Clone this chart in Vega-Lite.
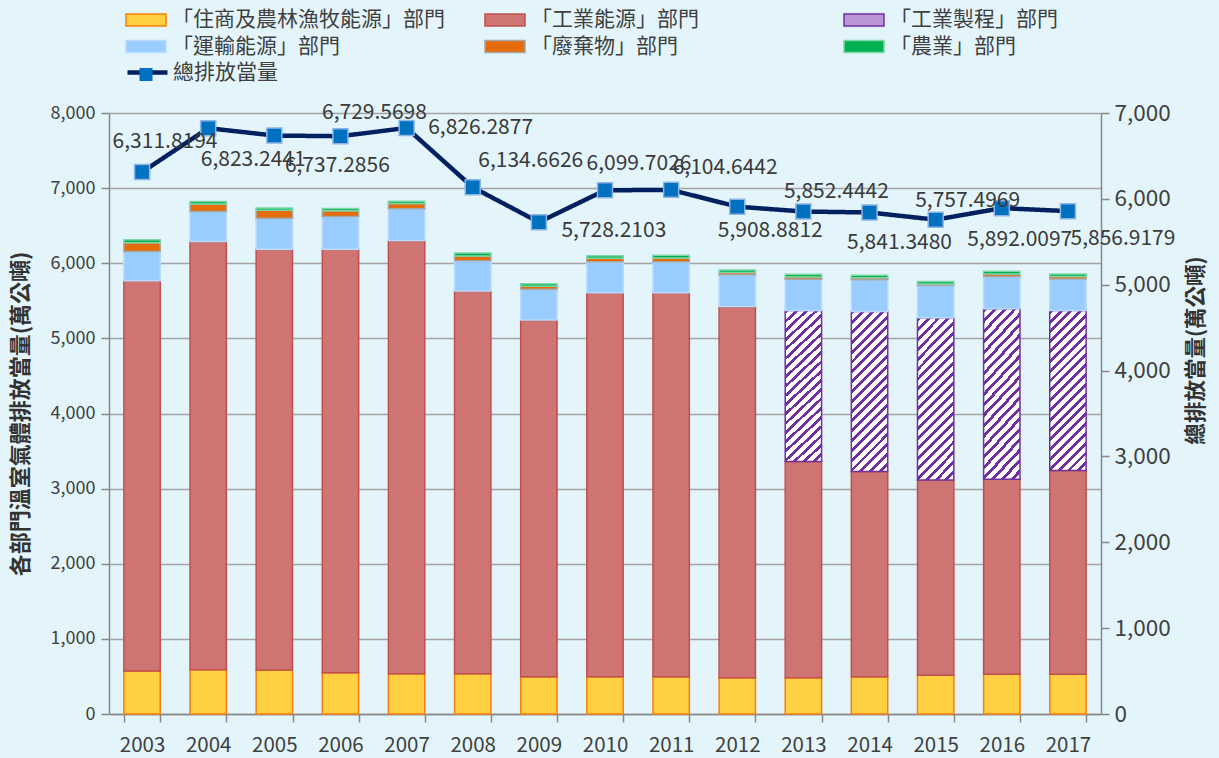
{
  "$schema": "https://vega.github.io/schema/vega-lite/v6.json",
  "width": 992,
  "height": 601,
  "autosize": {"type": "none"},
  "padding": {"left": 109, "top": 113, "right": 118, "bottom": 44},
  "background": "#E3F5FB",
  "config": {
    "view": {"stroke": null},
    "font": "Noto Sans CJK TC",
    "axis": {
      "labelFont": "Noto Sans CJK TC",
      "labelColor": "#404040",
      "domainColor": "#868686",
      "tickColor": "#868686",
      "gridColor": "#A3A3A3",
      "domainWidth": 1.5,
      "tickWidth": 1.5,
      "gridWidth": 1.5,
      "titleFont": "Noto Sans CJK TC",
      "titleColor": "#333333"
    },
    "legend": {
      "labelFont": "Noto Sans CJK TC",
      "labelFontSize": 21,
      "labelColor": "#404040",
      "labelLimit": 400
    },
    "text": {
      "font": "Noto Sans CJK TC",
      "fontSize": 21,
      "color": "#3A3A3A",
      "align": "center",
      "baseline": "middle"
    }
  },
  "datasets": {
    "sectors": [
      {"sector": "「住商及農林漁牧能源」部門", "rank": 1},
      {"sector": "「工業能源」部門", "rank": 2},
      {"sector": "「工業製程」部門", "rank": 3},
      {"sector": "「運輸能源」部門", "rank": 4},
      {"sector": "「廢棄物」部門", "rank": 5},
      {"sector": "「農業」部門", "rank": 6}
    ],
    "bars": [
      {"year": "2003", "sector": "「住商及農林漁牧能源」部門", "value": 573},
      {"year": "2003", "sector": "「工業能源」部門", "value": 5193},
      {"year": "2003", "sector": "「運輸能源」部門", "value": 390},
      {"year": "2003", "sector": "「廢棄物」部門", "value": 118},
      {"year": "2003", "sector": "「農業」部門", "value": 38},
      {"year": "2004", "sector": "「住商及農林漁牧能源」部門", "value": 590},
      {"year": "2004", "sector": "「工業能源」部門", "value": 5699},
      {"year": "2004", "sector": "「運輸能源」部門", "value": 400},
      {"year": "2004", "sector": "「廢棄物」部門", "value": 100},
      {"year": "2004", "sector": "「農業」部門", "value": 34},
      {"year": "2005", "sector": "「住商及農林漁牧能源」部門", "value": 586},
      {"year": "2005", "sector": "「工業能源」部門", "value": 5602},
      {"year": "2005", "sector": "「運輸能源」部門", "value": 412},
      {"year": "2005", "sector": "「廢棄物」部門", "value": 104},
      {"year": "2005", "sector": "「農業」部門", "value": 33},
      {"year": "2006", "sector": "「住商及農林漁牧能源」部門", "value": 550},
      {"year": "2006", "sector": "「工業能源」部門", "value": 5638},
      {"year": "2006", "sector": "「運輸能源」部門", "value": 434},
      {"year": "2006", "sector": "「廢棄物」部門", "value": 76},
      {"year": "2006", "sector": "「農業」部門", "value": 32},
      {"year": "2007", "sector": "「住商及農林漁牧能源」部門", "value": 537},
      {"year": "2007", "sector": "「工業能源」部門", "value": 5765},
      {"year": "2007", "sector": "「運輸能源」部門", "value": 422},
      {"year": "2007", "sector": "「廢棄物」部門", "value": 70},
      {"year": "2007", "sector": "「農業」部門", "value": 32},
      {"year": "2008", "sector": "「住商及農林漁牧能源」部門", "value": 537},
      {"year": "2008", "sector": "「工業能源」部門", "value": 5095},
      {"year": "2008", "sector": "「運輸能源」部門", "value": 400},
      {"year": "2008", "sector": "「廢棄物」部門", "value": 65},
      {"year": "2008", "sector": "「農業」部門", "value": 38},
      {"year": "2009", "sector": "「住商及農林漁牧能源」部門", "value": 497},
      {"year": "2009", "sector": "「工業能源」部門", "value": 4749},
      {"year": "2009", "sector": "「運輸能源」部門", "value": 409},
      {"year": "2009", "sector": "「廢棄物」部門", "value": 40},
      {"year": "2009", "sector": "「農業」部門", "value": 33},
      {"year": "2010", "sector": "「住商及農林漁牧能源」部門", "value": 497},
      {"year": "2010", "sector": "「工業能源」部門", "value": 5109},
      {"year": "2010", "sector": "「運輸能源」部門", "value": 413},
      {"year": "2010", "sector": "「廢棄物」部門", "value": 46},
      {"year": "2010", "sector": "「農業」部門", "value": 35},
      {"year": "2011", "sector": "「住商及農林漁牧能源」部門", "value": 497},
      {"year": "2011", "sector": "「工業能源」部門", "value": 5109},
      {"year": "2011", "sector": "「運輸能源」部門", "value": 413},
      {"year": "2011", "sector": "「廢棄物」部門", "value": 50},
      {"year": "2011", "sector": "「農業」部門", "value": 36},
      {"year": "2012", "sector": "「住商及農林漁牧能源」部門", "value": 484},
      {"year": "2012", "sector": "「工業能源」部門", "value": 4939},
      {"year": "2012", "sector": "「運輸能源」部門", "value": 423},
      {"year": "2012", "sector": "「廢棄物」部門", "value": 30},
      {"year": "2012", "sector": "「農業」部門", "value": 33},
      {"year": "2013", "sector": "「住商及農林漁牧能源」部門", "value": 484},
      {"year": "2013", "sector": "「工業能源」部門", "value": 2876},
      {"year": "2013", "sector": "「工業製程」部門", "value": 2010},
      {"year": "2013", "sector": "「運輸能源」部門", "value": 418},
      {"year": "2013", "sector": "「廢棄物」部門", "value": 30},
      {"year": "2013", "sector": "「農業」部門", "value": 34},
      {"year": "2014", "sector": "「住商及農林漁牧能源」部門", "value": 497},
      {"year": "2014", "sector": "「工業能源」部門", "value": 2730},
      {"year": "2014", "sector": "「工業製程」部門", "value": 2130},
      {"year": "2014", "sector": "「運輸能源」部門", "value": 422},
      {"year": "2014", "sector": "「廢棄物」部門", "value": 28},
      {"year": "2014", "sector": "「農業」部門", "value": 34},
      {"year": "2015", "sector": "「住商及農林漁牧能源」部門", "value": 515},
      {"year": "2015", "sector": "「工業能源」部門", "value": 2601},
      {"year": "2015", "sector": "「工業製程」部門", "value": 2157},
      {"year": "2015", "sector": "「運輸能源」部門", "value": 430},
      {"year": "2015", "sector": "「廢棄物」部門", "value": 20},
      {"year": "2015", "sector": "「農業」部門", "value": 34},
      {"year": "2016", "sector": "「住商及農林漁牧能源」部門", "value": 528},
      {"year": "2016", "sector": "「工業能源」部門", "value": 2597},
      {"year": "2016", "sector": "「工業製程」部門", "value": 2268},
      {"year": "2016", "sector": "「運輸能源」部門", "value": 430},
      {"year": "2016", "sector": "「廢棄物」部門", "value": 35},
      {"year": "2016", "sector": "「農業」部門", "value": 34},
      {"year": "2017", "sector": "「住商及農林漁牧能源」部門", "value": 528},
      {"year": "2017", "sector": "「工業能源」部門", "value": 2712},
      {"year": "2017", "sector": "「工業製程」部門", "value": 2130},
      {"year": "2017", "sector": "「運輸能源」部門", "value": 422},
      {"year": "2017", "sector": "「廢棄物」部門", "value": 30},
      {"year": "2017", "sector": "「農業」部門", "value": 35}
    ],
    "totals": [
      {"year": "2003", "total": 6311.8194},
      {"year": "2004", "total": 6823.2441},
      {"year": "2005", "total": 6737.2856},
      {"year": "2006", "total": 6729.5698},
      {"year": "2007", "total": 6826.2877},
      {"year": "2008", "total": 6134.6626},
      {"year": "2009", "total": 5728.2103},
      {"year": "2010", "total": 6099.7026},
      {"year": "2011", "total": 6104.6442},
      {"year": "2012", "total": 5908.8812},
      {"year": "2013", "total": 5852.4442},
      {"year": "2014", "total": 5841.348},
      {"year": "2015", "total": 5757.4969},
      {"year": "2016", "total": 5892.0097},
      {"year": "2017", "total": 5856.9179}
    ]
  },
  "layer": [
    {
      "data": {"name": "bars"},
      "transform": [
        {"lookup": "sector", "from": {"data": {"name": "sectors"}, "key": "sector", "fields": ["rank"]}}
      ],
      "mark": {"type": "bar", "strokeWidth": 1.5},
      "encoding": {
        "x": {
          "field": "year",
          "type": "ordinal",
          "scale": {"paddingInner": 0.45, "paddingOuter": 0.225},
          "axis": {
            "title": null,
            "labelAngle": 0,
            "labelFontSize": 20.5,
            "tickBand": "extent",
            "tickSize": 8,
            "labelPadding": 13,
            "grid": false
          }
        },
        "y": {
          "field": "value",
          "type": "quantitative",
          "stack": "zero",
          "scale": {"domain": [0, 8000]},
          "axis": {
            "title": "各部門溫室氣體排放當量(萬公噸)",
            "values": [0, 1000, 2000, 3000, 4000, 5000, 6000, 7000, 8000],
            "format": ",.0f",
            "labelFontSize": 18,
            "tickSize": 8,
            "labelPadding": 6,
            "grid": true,
            "titleFontSize": 22,
            "titleFontWeight": "bold",
            "titlePadding": 18
          }
        },
        "order": {"field": "rank", "type": "quantitative", "sort": "ascending"},
        "fill": {
          "condition": {
            "test": "datum.sector === '「工業製程」部門'",
            "value": {
              "gradient": "linear",
              "x1": 0, "y1": 0, "x2": 0.2655, "y2": 1.167,
              "stops": [
                {"offset": 0, "color": "#7030A0"}, {"offset": 0.02, "color": "#7030A0"}, {"offset": 0.02, "color": "#FFFFFF"}, {"offset": 0.05, "color": "#FFFFFF"},
                {"offset": 0.05, "color": "#7030A0"}, {"offset": 0.07, "color": "#7030A0"}, {"offset": 0.07, "color": "#FFFFFF"}, {"offset": 0.10, "color": "#FFFFFF"},
                {"offset": 0.10, "color": "#7030A0"}, {"offset": 0.12, "color": "#7030A0"}, {"offset": 0.12, "color": "#FFFFFF"}, {"offset": 0.15, "color": "#FFFFFF"},
                {"offset": 0.15, "color": "#7030A0"}, {"offset": 0.17, "color": "#7030A0"}, {"offset": 0.17, "color": "#FFFFFF"}, {"offset": 0.20, "color": "#FFFFFF"},
                {"offset": 0.20, "color": "#7030A0"}, {"offset": 0.22, "color": "#7030A0"}, {"offset": 0.22, "color": "#FFFFFF"}, {"offset": 0.25, "color": "#FFFFFF"},
                {"offset": 0.25, "color": "#7030A0"}, {"offset": 0.27, "color": "#7030A0"}, {"offset": 0.27, "color": "#FFFFFF"}, {"offset": 0.30, "color": "#FFFFFF"},
                {"offset": 0.30, "color": "#7030A0"}, {"offset": 0.32, "color": "#7030A0"}, {"offset": 0.32, "color": "#FFFFFF"}, {"offset": 0.35, "color": "#FFFFFF"},
                {"offset": 0.35, "color": "#7030A0"}, {"offset": 0.37, "color": "#7030A0"}, {"offset": 0.37, "color": "#FFFFFF"}, {"offset": 0.40, "color": "#FFFFFF"},
                {"offset": 0.40, "color": "#7030A0"}, {"offset": 0.42, "color": "#7030A0"}, {"offset": 0.42, "color": "#FFFFFF"}, {"offset": 0.45, "color": "#FFFFFF"},
                {"offset": 0.45, "color": "#7030A0"}, {"offset": 0.47, "color": "#7030A0"}, {"offset": 0.47, "color": "#FFFFFF"}, {"offset": 0.50, "color": "#FFFFFF"},
                {"offset": 0.50, "color": "#7030A0"}, {"offset": 0.52, "color": "#7030A0"}, {"offset": 0.52, "color": "#FFFFFF"}, {"offset": 0.55, "color": "#FFFFFF"},
                {"offset": 0.55, "color": "#7030A0"}, {"offset": 0.57, "color": "#7030A0"}, {"offset": 0.57, "color": "#FFFFFF"}, {"offset": 0.60, "color": "#FFFFFF"},
                {"offset": 0.60, "color": "#7030A0"}, {"offset": 0.62, "color": "#7030A0"}, {"offset": 0.62, "color": "#FFFFFF"}, {"offset": 0.65, "color": "#FFFFFF"},
                {"offset": 0.65, "color": "#7030A0"}, {"offset": 0.67, "color": "#7030A0"}, {"offset": 0.67, "color": "#FFFFFF"}, {"offset": 0.70, "color": "#FFFFFF"},
                {"offset": 0.70, "color": "#7030A0"}, {"offset": 0.72, "color": "#7030A0"}, {"offset": 0.72, "color": "#FFFFFF"}, {"offset": 0.75, "color": "#FFFFFF"},
                {"offset": 0.75, "color": "#7030A0"}, {"offset": 0.77, "color": "#7030A0"}, {"offset": 0.77, "color": "#FFFFFF"}, {"offset": 0.80, "color": "#FFFFFF"},
                {"offset": 0.80, "color": "#7030A0"}, {"offset": 0.82, "color": "#7030A0"}, {"offset": 0.82, "color": "#FFFFFF"}, {"offset": 0.85, "color": "#FFFFFF"},
                {"offset": 0.85, "color": "#7030A0"}, {"offset": 0.87, "color": "#7030A0"}, {"offset": 0.87, "color": "#FFFFFF"}, {"offset": 0.90, "color": "#FFFFFF"},
                {"offset": 0.90, "color": "#7030A0"}, {"offset": 0.92, "color": "#7030A0"}, {"offset": 0.92, "color": "#FFFFFF"}, {"offset": 0.95, "color": "#FFFFFF"},
                {"offset": 0.95, "color": "#7030A0"}, {"offset": 0.97, "color": "#7030A0"}, {"offset": 0.97, "color": "#FFFFFF"}, {"offset": 1, "color": "#FFFFFF"}
              ]
            }
          },
          "field": "sector",
          "type": "nominal",
          "scale": {
            "domain": ["「住商及農林漁牧能源」部門", "「工業能源」部門", "「工業製程」部門", "「運輸能源」部門", "「廢棄物」部門", "「農業」部門"],
            "range": ["#FFD042", "#CE7472", "#B996D4", "#99CCFF", "#E46C0A", "#00B050"]
          },
          "legend": {
            "orient": "none",
            "legendX": 26,
            "legendY": -104,
            "direction": "horizontal",
            "columns": 3,
            "title": null,
            "symbolType": "M-2,-0.6H2V0.6H-2Z",
            "symbolSize": 400,
            "symbolStrokeWidth": 1.5,
            "symbolOpacity": 1,
            "labelOffset": 15,
            "rowPadding": 5.5,
            "columnPadding": 37,
            "gridAlign": "all",
            "encoding": {
              "symbols": {
                "update": {
                  "stroke": {
                    "condition": [
                      {"test": "datum.value === '「住商及農林漁牧能源」部門'", "value": "#F97E0F"},
                      {"test": "datum.value === '「工業能源」部門'", "value": "#C0504D"},
                      {"test": "datum.value === '「工業製程」部門'", "value": "#7030A0"},
                      {"test": "datum.value === '「運輸能源」部門'", "value": "#B8DBFF"},
                      {"test": "datum.value === '「廢棄物」部門'", "value": "#A6A6A6"}
                    ],
                    "value": "#7FD7A7"
                  }
                }
              }
            }
          }
        },
        "stroke": {
          "field": "sector",
          "type": "nominal",
          "scale": {
            "domain": ["「住商及農林漁牧能源」部門", "「工業能源」部門", "「工業製程」部門", "「運輸能源」部門", "「廢棄物」部門", "「農業」部門"],
            "range": ["#F97E0F", "#C0504D", "#7030A0", "#B8DBFF", "#A6A6A6", "#7FD7A7"]
          },
          "legend": null
        }
      }
    },
    {
      "data": {"name": "totals"},
      "encoding": {
        "x": {"field": "year", "type": "ordinal"},
        "y": {
          "field": "total",
          "type": "quantitative",
          "scale": {"domain": [0, 7000]},
          "axis": {
            "orient": "right",
            "title": "總排放當量(萬公噸)",
            "values": [0, 1000, 2000, 3000, 4000, 5000, 6000, 7000],
            "format": ",.0f",
            "labelFontSize": 22.5,
            "tickSize": 8,
            "labelPadding": 5,
            "grid": false,
            "titleAngle": 270,
            "titleY": 237,
            "titleFontSize": 21.5,
            "titleFontWeight": "bold",
            "titlePadding": 37
          }
        }
      },
      "layer": [
        {
          "mark": {"type": "line", "color": "#002060", "strokeWidth": 4.5},
          "encoding": {
            "strokeDash": {
              "datum": "總排放當量",
              "scale": {"range": [[1, 0]]},
              "legend": {
                "orient": "none",
                "legendX": 16,
                "legendY": -63,
                "title": null,
                "symbolType": "stroke",
                "symbolSize": 1600,
                "symbolStrokeWidth": 4.5,
                "symbolStrokeColor": "#002060",
                "labelOffset": 3
              }
            }
          }
        },
        {
          "mark": {"type": "point", "shape": "square", "size": 225, "filled": true, "fill": "#0070C0", "stroke": "#8EB4E3", "strokeWidth": 1.5, "opacity": 1},
          "encoding": {
            "shape": {
              "datum": "總排放當量 ",
              "scale": {"range": ["square"]},
              "legend": {
                "orient": "none",
                "legendX": 26.5,
                "legendY": -49,
                "title": null,
                "labelExpr": "''",
                "symbolSize": 169,
                "symbolFillColor": "#0070C0",
                "symbolStrokeColor": "#8EB4E3",
                "symbolStrokeWidth": 1.5,
                "symbolOpacity": 1
              }
            }
          }
        },
        {"transform": [{"filter": "datum.year === '2003'"}], "mark": {"type": "text", "dx": 23, "dy": -30}, "encoding": {"text": {"field": "total", "type": "quantitative", "format": ",.4f"}}},
        {"transform": [{"filter": "datum.year === '2004'"}], "mark": {"type": "text", "dx": 45, "dy": 32}, "encoding": {"text": {"field": "total", "type": "quantitative", "format": ",.4f"}}},
        {"transform": [{"filter": "datum.year === '2005'"}], "mark": {"type": "text", "dx": 63, "dy": 30}, "encoding": {"text": {"field": "total", "type": "quantitative", "format": ",.4f"}}},
        {"transform": [{"filter": "datum.year === '2006'"}], "mark": {"type": "text", "dx": 34, "dy": -23}, "encoding": {"text": {"field": "total", "type": "quantitative", "format": ",.4f"}}},
        {"transform": [{"filter": "datum.year === '2007'"}], "mark": {"type": "text", "dx": 74, "dy": 0}, "encoding": {"text": {"field": "total", "type": "quantitative", "format": ",.4f"}}},
        {"transform": [{"filter": "datum.year === '2008'"}], "mark": {"type": "text", "dx": 58, "dy": -26}, "encoding": {"text": {"field": "total", "type": "quantitative", "format": ",.4f"}}},
        {"transform": [{"filter": "datum.year === '2009'"}], "mark": {"type": "text", "dx": 75, "dy": 9}, "encoding": {"text": {"field": "total", "type": "quantitative", "format": ",.4f"}}},
        {"transform": [{"filter": "datum.year === '2010'"}], "mark": {"type": "text", "dx": 34, "dy": -26}, "encoding": {"text": {"field": "total", "type": "quantitative", "format": ",.4f"}}},
        {"transform": [{"filter": "datum.year === '2011'"}], "mark": {"type": "text", "dx": 54, "dy": -22}, "encoding": {"text": {"field": "total", "type": "quantitative", "format": ",.4f"}}},
        {"transform": [{"filter": "datum.year === '2012'"}], "mark": {"type": "text", "dx": 33, "dy": 24}, "encoding": {"text": {"field": "total", "type": "quantitative", "format": ",.4f"}}},
        {"transform": [{"filter": "datum.year === '2013'"}], "mark": {"type": "text", "dx": 33, "dy": -20}, "encoding": {"text": {"field": "total", "type": "quantitative", "format": ",.4f"}}},
        {"transform": [{"filter": "datum.year === '2014'"}], "mark": {"type": "text", "dx": 30, "dy": 31}, "encoding": {"text": {"field": "total", "type": "quantitative", "format": ",.4f"}}},
        {"transform": [{"filter": "datum.year === '2015'"}], "mark": {"type": "text", "dx": 32, "dy": -19}, "encoding": {"text": {"field": "total", "type": "quantitative", "format": ",.4f"}}},
        {"transform": [{"filter": "datum.year === '2016'"}], "mark": {"type": "text", "dx": 18, "dy": 32}, "encoding": {"text": {"field": "total", "type": "quantitative", "format": ",.4f"}}},
        {"transform": [{"filter": "datum.year === '2017'"}], "mark": {"type": "text", "dx": 55, "dy": 28}, "encoding": {"text": {"field": "total", "type": "quantitative", "format": ",.4f"}}}
      ]
    }
  ],
  "resolve": {"scale": {"y": "independent"}}
}
